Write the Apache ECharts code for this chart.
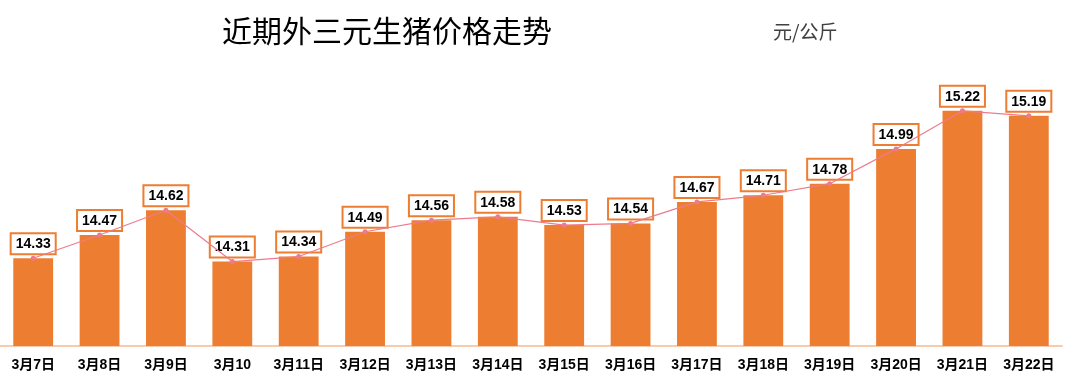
<!DOCTYPE html>
<html><head><meta charset="utf-8">
<script src="https://cdn.jsdelivr.net/npm/echarts@6/dist/echarts.min.js"></script>
<style>html,body{margin:0;padding:0;background:#fff}#c{width:1080px;height:388px}</style>
</head><body><div id="c"></div>
<script>
const categories = ['3月7日','3月8日','3月9日','3月10','3月11日','3月12日','3月13日','3月14日','3月15日','3月16日','3月17日','3月18日','3月19日','3月20日','3月21日','3月22日'];
const prices = [14.33,14.47,14.62,14.31,14.34,14.49,14.56,14.58,14.53,14.54,14.67,14.71,14.78,14.99,15.22,15.19];
const titleText = '近期外三元生猪价格走势';
const unitText = '元/公斤';

const chart = echarts.init(document.getElementById('c'));
chart.setOption({
  animation: false,
  backgroundColor: '#fff',
  title: [
    {text: titleText, left: 382, top: 11, textAlign: 'center',
     textStyle: {fontFamily: 'Noto Sans CJK SC', fontSize: 30, fontWeight: 'normal', color: '#000'}},
    {text: unitText, left: 768, top: 17,
     textStyle: {fontFamily: 'Noto Sans CJK SC', fontSize: 19, fontWeight: 'normal', color: '#404040'}}
  ],
  grid: {left: -2, right: 18, top: 81, bottom: 42, containLabel: false},
  xAxis: {
    type: 'category', data: categories,
    axisLine: {lineStyle: {color: '#F8CBAD', width: 2}},
    axisTick: {show: false},
    axisLabel: {color: '#000', fontWeight: 'bold', fontSize: 14, fontFamily: 'Liberation Sans, Noto Sans CJK SC', margin: 12, interval: 0}
  },
  yAxis: {type: 'value', min: 13.8, max: 15.4, show: false, splitLine: {show: false}},
  series: [
    {type: 'bar', data: prices, barWidth: '60%', itemStyle: {color: '#ED7D31'},
     label: {show: true, position: 'top', distance: 5, formatter: p => p.value.toFixed(2),
       color: '#000', fontWeight: 'bold', fontSize: 14, fontFamily: 'Liberation Sans',
       backgroundColor: '#fff', borderColor: '#ED7D31', borderWidth: 2, padding: [3, 4, 2, 4]}},
    {type: 'line', data: prices, z: 5, symbol: 'circle', symbolSize: 5,
     lineStyle: {color: '#EE7B8C', width: 1.2}, itemStyle: {color: '#EE7B8C'}, label: {show: false}}
  ]
});
</script></body></html>
